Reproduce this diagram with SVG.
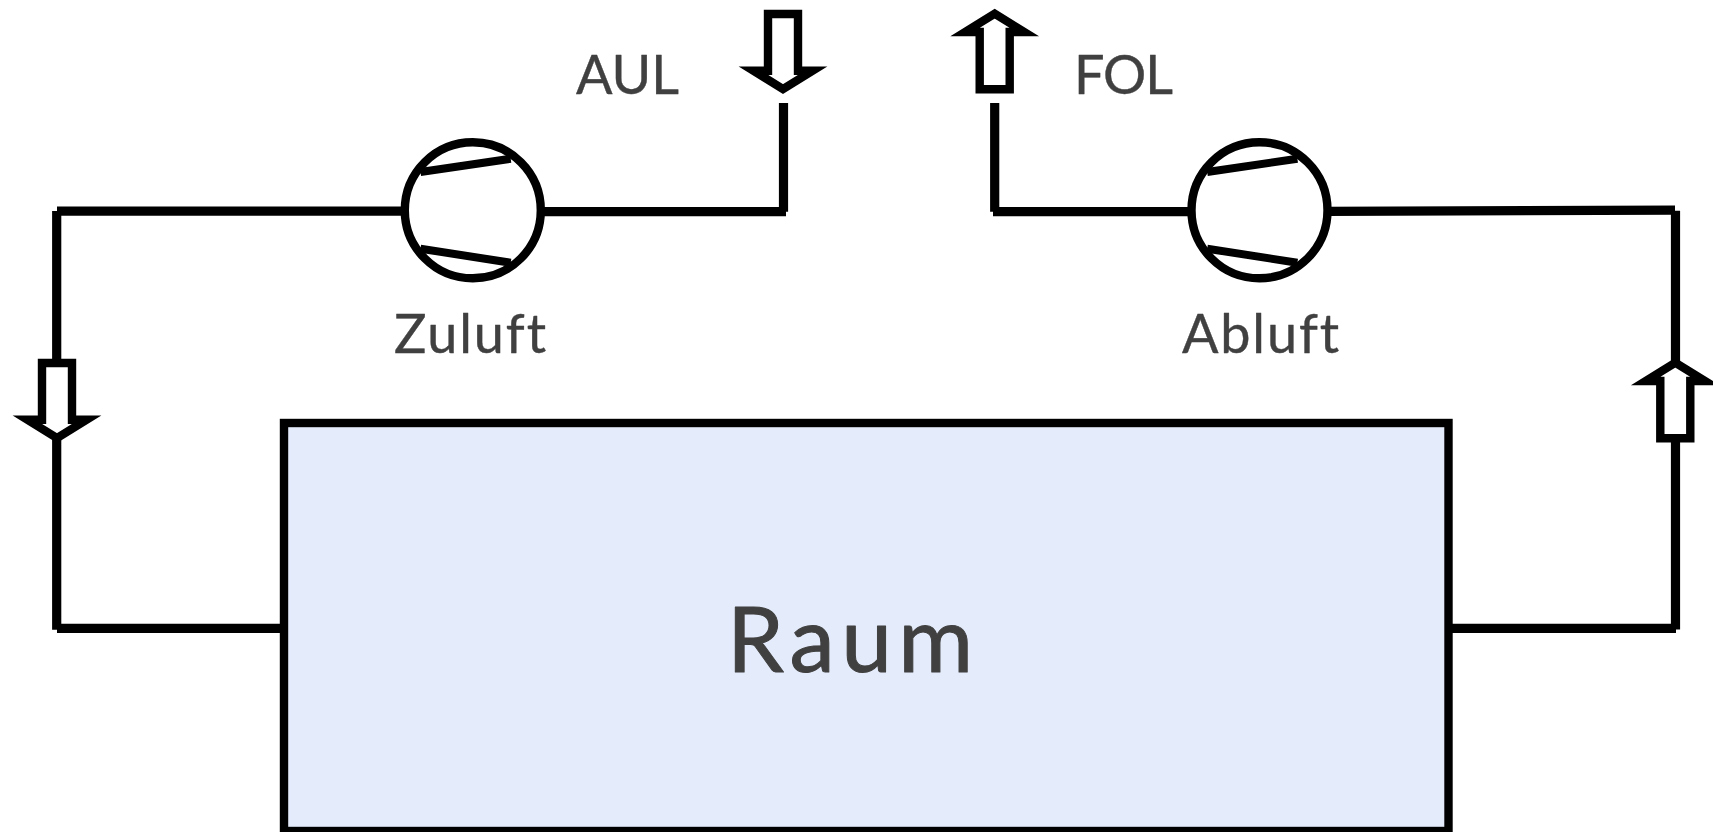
<svg xmlns="http://www.w3.org/2000/svg" width="1713" height="832" viewBox="0 0 1713 832">
<style>
.ln{fill:none;stroke:#000;stroke-width:9.2}
.bl{stroke:#000;stroke-width:8;fill:none}
.fan{fill:#fff;stroke:#000;stroke-width:8.4}
.ar{fill:#fff;stroke:#000;stroke-width:8.4;stroke-miterlimit:10}
.t{font-family:Lato,"Liberation Sans",sans-serif;fill:#404040;font-size:54px;stroke:#404040;stroke-width:.4;stroke-linejoin:round;font-variant-ligatures:none}
</style>
<defs>
<polygon id="down" points="768,14 798,14 798,70.7 812.6,70.7 783,89 753.4,70.7 768,70.7"/>
<polygon id="up" points="979.7,89.3 1009.7,89.3 1009.7,32 1024.3,32 994.7,13.7 965.1,32 979.7,32"/>
</defs>
<rect width="1713" height="832" fill="#fff"/>
<g id="connectors">
<path class="ln" d="M57 211.2H404"/>
<path class="ln" d="M56.7 211V360"/>
<path class="ln" d="M56.7 438V629.7"/>
<path class="ln" d="M57 628.3H285"/>
<path class="ln" d="M540 211.7H786"/>
<path class="ln" d="M783.5 103V211.7"/>
<path class="ln" d="M994.7 103V211.7"/>
<path class="ln" d="M993 211.7H1192"/>
<path class="ln" d="M1327 211.3L1675 210.2"/>
<path class="ln" d="M1675.5 210.7V362"/>
<path class="ln" d="M1675.5 440V629.5"/>
<path class="ln" d="M1450 628.3H1676"/>
</g>
<g id="arrow-aul"><use href="#down" class="ar"/></g>
<g id="arrow-fol"><use href="#up" class="ar"/></g>
<g id="arrow-zuluft"><use href="#down" class="ar" transform="translate(-726,349)"/></g>
<g id="arrow-abluft"><use href="#up" class="ar" transform="translate(680.6,349)"/></g>
<g id="raum">
<rect x="284" y="423" width="1164.5" height="408" fill="#E4EBFA" stroke="#000" stroke-width="8.4"/>
<text class="t" x="727" y="672.3" style="font-size:91px;stroke-width:1" textLength="246" lengthAdjust="spacing">Raum</text>
</g>
<g id="fan-zuluft">
<circle class="fan" cx="472.8" cy="210.3" r="68"/>
<path class="bl" d="M420.5 172L510.7 158.8M420.5 248.7L510.7 262.7"/>
<text class="t" x="394" y="353" textLength="152" lengthAdjust="spacing">Zuluft</text>
</g>
<g id="fan-abluft">
<circle class="fan" cx="1259.5" cy="210.3" r="68"/>
<path class="bl" d="M1207.2 172L1297.4 158.8M1207.2 248.7L1297.4 262.7"/>
<text class="t" x="1182" y="353" textLength="157" lengthAdjust="spacing">Abluft</text>
</g>
<g id="label-aul"><text class="t" x="576" y="93.7" textLength="103" lengthAdjust="spacing">AUL</text></g>
<g id="label-fol"><text class="t" x="1074" y="93.7" textLength="99" lengthAdjust="spacing">FOL</text></g>
</svg>
